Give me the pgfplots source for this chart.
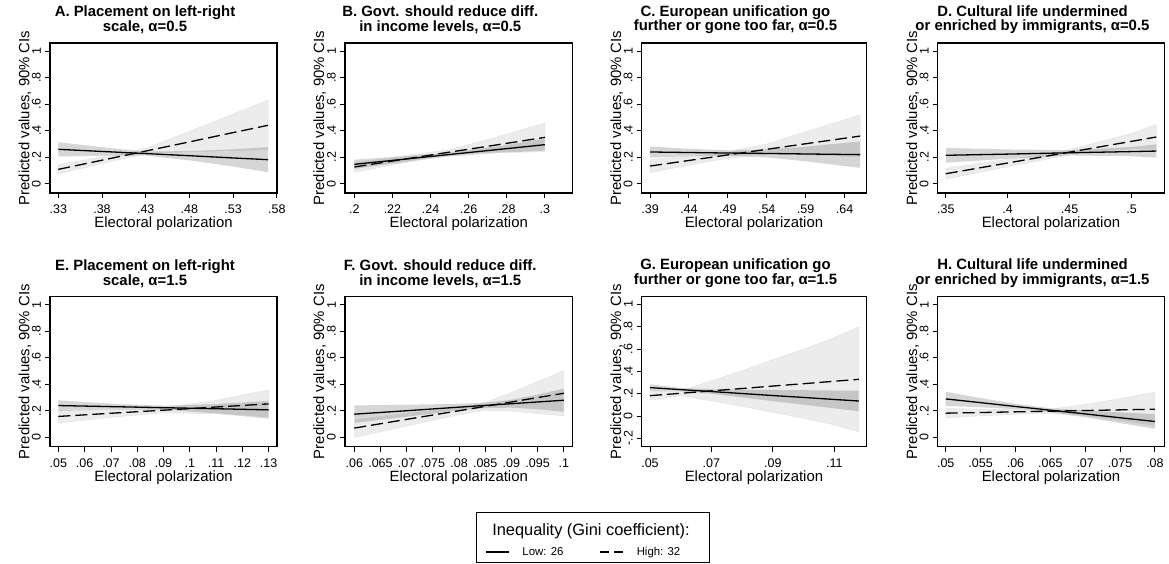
\documentclass[border=0pt]{standalone}
\usepackage{pgfplots}
\pgfplotsset{compat=1.18}
\usepackage{pgfplotstable}
\usepgfplotslibrary{fillbetween}
\usepackage{fontspec}
\setmainfont{Liberation Sans}

\pgfplotstableread{
x lf llo lhi hf hlo hhi
.33 .259 .205 .313 .108 .073 .143
.38 .243 .211 .275 .177 .152 .202
.43 .227 .212 .242 .246 .226 .266
.48 .211 .176 .246 .315 .235 .395
.53 .194 .129 .259 .385 .245 .525
.57 .181 .086 .276 .440 .250 .630
}\tA
\pgfplotstableread{
x lf llo lhi hf hlo hhi
.2 .146 .111 .181 .126 .086 .166
.225 .183 .161 .205 .182 .155 .209
.25 .220 .205 .235 .238 .220 .256
.275 .257 .232 .282 .293 .233 .353
.3 .294 .249 .339 .349 .241 .457
}\tB
\pgfplotstableread{
x lf llo lhi hf hlo hhi
.39 .239 .197 .281 .133 .083 .183
.44 .235 .207 .263 .175 .140 .210
.49 .231 .211 .251 .217 .192 .242
.54 .228 .198 .258 .259 .219 .299
.59 .224 .169 .279 .301 .211 .391
.66 .219 .119 .319 .359 .199 .519
}\tC
\pgfplotstableread{
x lf llo lhi hf hlo hhi
.35 .214 .158 .270 .075 .035 .115
.40 .223 .188 .258 .156 .128 .184
.45 .233 .213 .253 .238 .218 .258
.50 .242 .207 .277 .319 .259 .379
.52 .246 .196 .296 .352 .257 .447
}\tD
\pgfplotstableread{
x lf llo lhi hf hlo hhi
.05 .240 .200 .280 .158 .108 .208
.07 .232 .210 .254 .182 .152 .212
.09 .224 .209 .239 .205 .185 .225
.11 .216 .181 .251 .229 .179 .279
.13 .2075 .141 .275 .2525 .148 .358
}\tE
\pgfplotstableread{
x lf llo lhi hf hlo hhi
.06 .175 .109 .241 .070 .000 .140
.07 .201 .156 .246 .136 .086 .186
.08 .228 .203 .253 .201 .171 .231
.085 .241 .221 .261 .234 .204 .264
.09 .254 .224 .284 .267 .197 .337
.095 .267 .212 .322 .300 .180 .420
.1 .280 .192 .368 .3325 .1625 .5025
}\tF
\pgfplotstableread{
x lf llo lhi hf hlo hhi
.05 .254 .224 .284 .182 .142 .222
.06 .236 .221 .251 .203 .183 .223
.07 .219 .199 .239 .225 .135 .315
.08 .201 .166 .236 .246 .086 .406
.09 .183 .133 .233 .268 .033 .503
.10 .166 .101 .231 .289 -.021 .599
.11 .148 .068 .228 .311 -.079 .701
.118 .134 .042 .226 .328 -.142 .798
}\tG
\pgfplotstableread{
x lf llo lhi hf hlo hhi
.05 .290 .237 .343 .1825 .1475 .2175
.055 .262 .227 .297 .1875 .1625 .2125
.06 .233 .213 .253 .1925 .1745 .2105
.065 .205 .190 .220 .1975 .1825 .2125
.07 .177 .152 .202 .2025 .1575 .2475
.075 .148 .108 .188 .2075 .1225 .2925
.08 .120 .065 .175 .2125 .0845 .3405
}\tH

\newcommand{\panelplots}[1]{%
  \addplot[name path=lhi, draw=none, forget plot] table[x=x,y=lhi]{#1};
  \addplot[name path=llo, draw=none, forget plot] table[x=x,y=llo]{#1};
  \addplot[fill=black, fill opacity=0.16, draw=none, forget plot] fill between[of=lhi and llo];
  \addplot[name path=hhi, draw=none, forget plot] table[x=x,y=hhi]{#1};
  \addplot[name path=hlo, draw=none, forget plot] table[x=x,y=hlo]{#1};
  \addplot[fill=black, fill opacity=0.075, draw=black!12, line width=0.4pt, forget plot] fill between[of=hhi and hlo];
  \addplot[black, line width=1.3pt] table[x=x,y=lf]{#1};
  \addplot[black, line width=1.3pt, dash pattern=on 12pt off 5pt] table[x=x,y=hf]{#1};
}

\pgfplotsset{
  panel/.style={
    scale only axis, height=150pt,
    ymin=-0.07, ymax=1.06,
    ytick={0,0.2,0.4,0.6,0.8,1}, yticklabels={0,.2,.4,.6,.8,1},
    scaled x ticks=false, scaled y ticks=false,
    axis line style={line width=1.1pt},
    tick style={black, line width=0.9pt},
    tick align=outside, major tick length=5pt,
    tick pos=left,
    xticklabel style={font=\fontsize{12.5}{12.5}\selectfont, inner sep=0pt, anchor=north, yshift=-7pt},
    yticklabel style={font=\fontsize{12.5}{12.5}\selectfont, xshift=-4pt, rotate=90, anchor=south, inner sep=0pt},
    xlabel={Electoral polarization},
    ylabel={Predicted values, 90\% CIs},
    every axis y label/.style={at={(axis description cs:-0.082,0.5)}, rotate=90, anchor=south, inner sep=0pt, font=\fontsize{14.9}{14.9}\selectfont},
    every axis x label/.style={at={(axis description cs:0.5,0)}, anchor=north, inner sep=0pt, yshift=-24pt, font=\fontsize{14.9}{14.9}\selectfont},
    title style={font=\bfseries\fontsize{14.9}{14.5}\selectfont, align=center, at={(axis description cs:0.5,1)}, anchor=south, inner sep=0pt, xshift=-18.5pt, yshift=3pt},
  }
}

\begin{document}
\begin{tikzpicture}

\begin{axis}[panel, at={(50pt,370pt)}, anchor=south west, width=227pt,
  xmin=.3205, xmax=.5802,
  xtick={.33,.38,.43,.48,.53,.58}, xticklabels={.33,.38,.43,.48,.53,.58},
  title={A. Placement on left-right\\scale, α=0.5}]
\panelplots{\tA}
\end{axis}

\begin{axis}[panel, at={(345pt,370pt)}, anchor=south west, width=227.5pt,
  xmin=.1951, xmax=.3145,
  xtick={.2,.22,.24,.26,.28,.3}, xticklabels={.2,.22,.24,.26,.28,.3},
  title={B. Govt. should reduce diff.\\in income levels, α=0.5}]
\panelplots{\tB}
\end{axis}

\begin{axis}[panel, at={(641.7pt,370pt)}, anchor=south west, width=224.5pt,
  xmin=.3793, xmax=.6678,
  xtick={.39,.44,.49,.54,.59,.64}, xticklabels={.39,.44,.49,.54,.59,.64},
  title={C. European unification go\\further or gone too far, α=0.5}]
\panelplots{\tC}
\end{axis}

\begin{axis}[panel, at={(937.7pt,370pt)}, anchor=south west, width=226.5pt,
  xmin=.3435, xmax=.5264,
  xtick={.35,.4,.45,.5}, xticklabels={.35,.4,.45,.5},
  title={D. Cultural life undermined\\or enriched by immigrants, α=0.5}]
\panelplots{\tD}
\end{axis}

\begin{axis}[panel, at={(50pt,116.3pt)}, anchor=south west, width=227pt,
  xmin=.0468, xmax=.1332,
  xtick={.05,.06,.07,.08,.09,.1,.11,.12,.13}, xticklabels={.05,.06,.07,.08,.09,.1,.11,.12,.13},
  title={E. Placement on left-right\\scale, α=1.5}]
\panelplots{\tE}
\end{axis}

\begin{axis}[panel, at={(345pt,116.3pt)}, anchor=south west, width=227.5pt,
  xmin=.05823, xmax=.10166,
  xtick={.06,.065,.07,.075,.08,.085,.09,.095,.1}, xticklabels={.06,.065,.07,.075,.08,.085,.09,.095,.1},
  title={F. Govt. should reduce diff.\\in income levels, α=1.5}]
\panelplots{\tF}
\end{axis}

\begin{axis}[panel, at={(641.7pt,116.3pt)}, anchor=south west, width=224.5pt,
  xmin=.0473, xmax=.1204, ymin=-0.275, ymax=1.068,
  ytick={-0.2,0,0.2,0.4,0.6,0.8,1}, yticklabels={-.2,0,.2,.4,.6,.8,1},
  xtick={.05,.07,.09,.11}, xticklabels={.05,.07,.09,.11},
  title={G. European unification go\\further or gone too far, α=1.5}]
\panelplots{\tG}
\end{axis}

\begin{axis}[panel, at={(937.7pt,116.3pt)}, anchor=south west, width=226.5pt,
  xmin=.04885, xmax=.08133,
  xtick={.05,.055,.06,.065,.07,.075,.08}, xticklabels={.05,.055,.06,.065,.07,.075,.08},
  title={H. Cultural life undermined\\or enriched by immigrants, α=1.5}]
\panelplots{\tH}
\end{axis}

% legend
\begin{axis}[at={(0pt,0pt)}, anchor=south west, scale only axis, width=1169pt, height=563pt,
  xmin=0, xmax=1169, ymin=0, ymax=563, hide axis, clip=false,
  legend columns=2,
  legend image code/.code={\draw[#1] (0pt,0pt) -- (23pt,0pt);},
  legend style={at={(axis description cs:0.4123,0.0195)}, anchor=west, draw=none, fill=none,
    font=\fontsize{11.4}{11.4}\selectfont,
    /tikz/every odd column/.append style={column sep=11pt},
    /tikz/every even column/.append style={column sep=34pt}}]
\addlegendimage{black, line width=1.3pt}
\addlegendentry{Low: 26}
\addlegendimage{black, line width=1.3pt, dash pattern=on 9pt off 5pt}
\addlegendentry{High: 32}
\draw[line width=0.9pt] (axis cs:476,0.5) rectangle (axis cs:709,51);
\node[font=\fontsize{16.4}{16.4}\selectfont] at (axis cs:591,32) {Inequality (Gini coefficient):};
\end{axis}
\pgfresetboundingbox
\useasboundingbox (0,0) rectangle (1169pt,563pt);
\end{tikzpicture}
\end{document}
